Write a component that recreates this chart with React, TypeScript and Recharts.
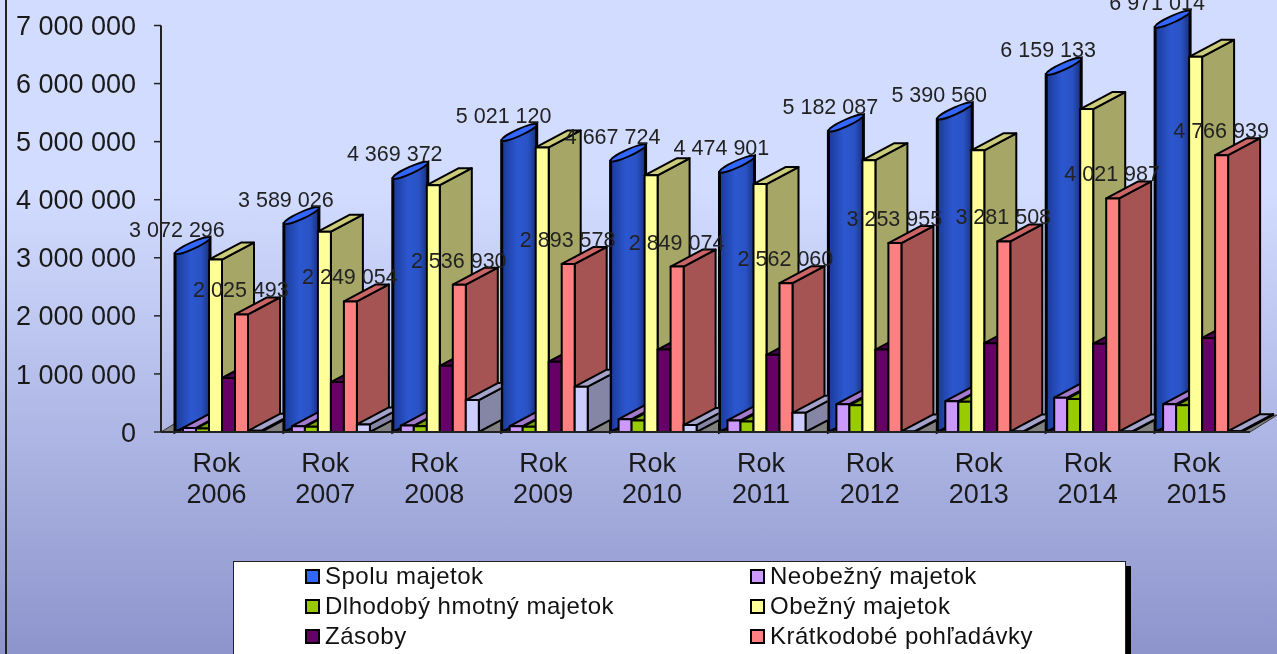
import { ComposedChart, Bar, Line, XAxis, YAxis, Legend, LabelList, ReferenceArea } from 'recharts';

const YEARS = ['2006', '2007', '2008', '2009', '2010', '2011', '2012', '2013', '2014', '2015'];
const SPOLU = [3072296, 3589026, 4369372, 5021120, 4667724, 4474901, 5182087, 5390560, 6159133, 6971014];
const NEOBEZNY = [70000, 100000, 110000, 100000, 220000, 200000, 480000, 530000, 590000, 480000];
const DLHODOBY = [60000, 90000, 100000, 90000, 200000, 180000, 460000, 520000, 570000, 460000];
const OBEZNY = [2970000, 3450000, 4250000, 4900000, 4420000, 4270000, 4680000, 4850000, 5560000, 6460000];
const ZASOBY = [930000, 860000, 1140000, 1210000, 1420000, 1330000, 1420000, 1530000, 1520000, 1620000];
const POHLADAVKY = [2025493, 2249054, 2536930, 2893578, 2849074, 2562060, 3253955, 3281508, 4021987, 4766939];
const FINANCNY = [20000, 130000, 550000, 780000, 120000, 330000, 10000, 10000, 10000, 15000];
const Y_TICKS = [0, 1000000, 2000000, 3000000, 4000000, 5000000, 6000000, 7000000];

const data = YEARS.map((year, i) => ({
  year,
  spolu: SPOLU[i],
  neobezny: NEOBEZNY[i],
  dlhodoby: DLHODOBY[i],
  obezny: OBEZNY[i],
  zasoby: ZASOBY[i],
  pohladavky: POHLADAVKY[i],
  financny: FINANCNY[i],
}));

const DX = 32;
const DY = -17;

const formatNum = (v: number) => String(v).replace(/\B(?=(\d{3})+(?!\d))/g, ' ');

// flat bar with side and top faces
function box(front: string, side: string, top: string) {
  return (p: any) => {
    const { x, y, width: w, height: h } = p;
    return (
      <g stroke="#000" strokeWidth={2} strokeLinejoin="round">
        <polygon points={`${x + w},${y} ${x + w + DX},${y + DY} ${x + w + DX},${y + h + DY} ${x + w},${y + h}`} fill={side} />
        <polygon points={`${x},${y} ${x + DX},${y + DY} ${x + w + DX},${y + DY} ${x + w},${y}`} fill={top} />
        <rect x={x} y={y} width={w} height={h} fill={front} />
      </g>
    );
  };
}

// last series runs behind the blue bar of the next year
function clippedBox(p: any) {
  const id = `fin-clip-${p.index}`;
  const inner = box('#ccccff', '#8585a6', '#a3a3cc')(p);
  const limit = p.index < YEARS.length - 1 ? 35 : 60;
  return (
    <g>
      <clipPath id={id}>
        <rect x={p.x - 2} y={p.y - 30} width={limit + 2} height={p.height + 40} />
      </clipPath>
      <g clipPath={`url(#${id})`}>{inner}</g>
    </g>
  );
}

function Cylinder(p: any) {
  const { x, y, height: h } = p;
  const left = x + 5;
  const right = x + 40;
  const cx = (left + right) / 2;
  const cy = y - 8;
  return (
    <g stroke="#000" strokeWidth={3}>
      <polygon points={`${left},${y} ${right},${y - 16} ${right},${y + h - 16} ${left},${y + h}`} fill="url(#blueBar)" />
      <ellipse cx={cx} cy={cy} rx={19} ry={3.4} transform={`rotate(-24.5 ${cx} ${cy})`} fill="#3366ff" strokeWidth={1.8} />
    </g>
  );
}

function Floor(p: any) {
  const { x, y, width: w, height: h } = p;
  return (
    <polygon
      points={`${x},${y + h} ${x + w},${y + h} ${x + w + 27},${y} ${x + 27},${y}`}
      fill="#808080"
      stroke="#333"
      strokeWidth={1}
    />
  );
}

function YearTick(p: any) {
  const x = p.x + 1;
  return (
    <text x={x} y={p.y} textAnchor="middle" fontSize={27} fill="#1a1a1a">
      <tspan x={x} y={472}>Rok</tspan>
      <tspan x={x} y={503}>{p.payload.value}</tspan>
    </text>
  );
}

const valueLabel = (shift: number, rise: number) => (p: any) => (
  <text x={p.x + shift} y={p.y - rise} textAnchor="middle" fontSize={21.5} fill="#222">
    {formatNum(p.value)}
  </text>
);

function LegendBox(p: any) {
  const items = p.payload.filter((item: any) => item.type !== 'none');
  return (
    <div
      style={{
        width: 893,
        height: 110,
        boxSizing: 'border-box',
        background: '#fff',
        border: '1.5px solid #222',
        boxShadow: '5px 5px 0 #000',
        paddingLeft: 71,
        display: 'grid',
        gridTemplateColumns: '445px 400px',
        gridAutoRows: 30.2,
        fontSize: 24,
        color: '#111',
        letterSpacing: 0.5,
      }}
    >
      {items.map((item: any) => (
        <div key={item.value} style={{ display: 'flex', alignItems: 'center', height: 28 }}>
          <span
            style={{
              width: 15,
              height: 15,
              boxSizing: 'border-box',
              background: item.color,
              border: '2px solid #000',
              marginRight: 5,
              flexShrink: 0,
            }}
          />
          {item.value}
        </div>
      ))}
    </div>
  );
}

export default function App() {
  return (
    <div
      style={{
        position: 'absolute',
        left: 0,
        top: 0,
        width: 1277,
        height: 654,
        overflow: 'hidden',
        fontFamily: '"Liberation Sans", Arial, sans-serif',
        background: 'linear-gradient(180deg, #d2dcff 0px, #d2dcff 190px, #8d94cc 654px)',
      }}
    >
      <div style={{ position: 'absolute', left: 5, top: 0, width: 2, height: 654, background: '#222' }} />
      <div style={{ position: 'absolute', left: 0, top: 0, filter: 'blur(0.45px)' }}>
        <ComposedChart
          width={1277}
          height={654}
          data={data}
          barSize={13}
          barGap={0}
          margin={{ top: 25.5, right: 27, bottom: 172, left: 0 }}
        >
          <defs>
            <linearGradient id="blueBar" x1="0" y1="0" x2="1" y2="0">
              <stop offset="0" stopColor="#1a3a96" />
              <stop offset="0.45" stopColor="#2c57d0" />
              <stop offset="0.75" stopColor="#2a52c4" />
              <stop offset="1" stopColor="#17307c" />
            </linearGradient>
          </defs>
          <ReferenceArea y1={0} y2={290000} shape={Floor} ifOverflow="visible" />
          <XAxis
            dataKey="year"
            height={50}
            tick={YearTick}
            interval={0}
            tickLine={false}
            axisLine={{ stroke: '#222', strokeWidth: 2 }}
          />
          <YAxis
            width={161}
            domain={[0, 7000000]}
            ticks={Y_TICKS}
            interval={0}
            tickFormatter={formatNum}
            tickSize={7}
            tickMargin={18}
            tick={{ fontSize: 27, fill: '#1a1a1a' }}
            tickLine={{ stroke: '#222', strokeWidth: 1.5 }}
            axisLine={{ stroke: '#222', strokeWidth: 2 }}
          />
          <Bar dataKey="spolu" name="Spolu majetok" fill="#3366ff" shape={Cylinder} isAnimationActive={false} />
          <Bar dataKey="neobezny" name="Neobežný majetok" fill="#cc99ff" shape={box('#cc99ff', '#8464a6', '#a37acc')} isAnimationActive={false} />
          <Bar dataKey="dlhodoby" name="Dlhodobý hmotný majetok" fill="#99cc00" shape={box('#99cc00', '#638500', '#7aa300')} isAnimationActive={false} />
          <Bar dataKey="obezny" name="Obežný majetok" fill="#ffff99" shape={box('#ffff99', '#a6a666', '#cccc7a')} isAnimationActive={false} />
          <Bar dataKey="zasoby" name="Zásoby" fill="#660066" shape={box('#660066', '#420042', '#520052')} isAnimationActive={false} />
          <Bar dataKey="pohladavky" name="Krátkodobé pohľadávky" fill="#ff8080" shape={box('#ff8080', '#a65353', '#cc6666')} isAnimationActive={false} />
          <Bar dataKey="financny" name="Finančný majetok" fill="#ccccff" legendType="none" shape={clippedBox} isAnimationActive={false} />
          <Line dataKey="spolu" stroke="none" dot={false} activeDot={false} legendType="none" isAnimationActive={false}>
            <LabelList dataKey="spolu" content={valueLabel(-38.5, 17)} />
          </Line>
          <Line dataKey="pohladavky" stroke="none" dot={false} activeDot={false} legendType="none" isAnimationActive={false}>
            <LabelList dataKey="pohladavky" content={valueLabel(25.5, 17)} />
          </Line>
          <Legend
            verticalAlign="middle"
            itemSorter={null}
            content={LegendBox}
            wrapperStyle={{ left: 233, top: 561, width: 893 }}
          />
        </ComposedChart>
      </div>
    </div>
  );
}
